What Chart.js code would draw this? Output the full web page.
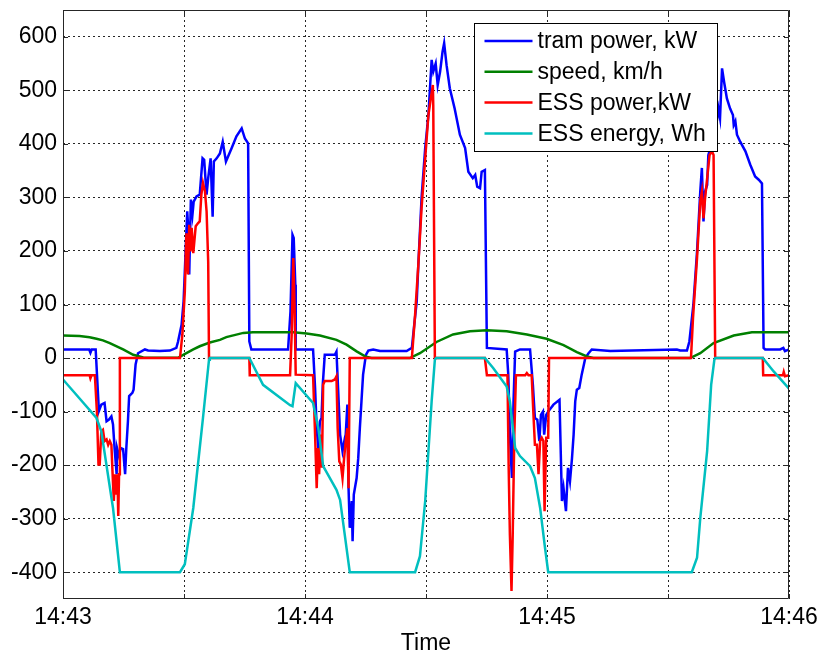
<!DOCTYPE html>
<html>
<head>
<meta charset="utf-8">
<title>Tram power and ESS</title>
<script src="https://cdn.jsdelivr.net/npm/chart.js@4.4.1/dist/chart.umd.min.js"></script>
<style>
    html, body { margin: 0; padding: 0; background: #fff; }
</style>
</head>
<body>
<canvas id="LineChart" width="820" height="657"></canvas>
<script>

// time axis in seconds after 14:43:00
var timeTicks = [0, 30, 60, 90, 120, 150, 180];
var timeLabels = { 0: '14:43', 60: '14:44', 120: '14:45', 180: '14:46' };
var valueTicks = [-400, -300, -200, -100, 0, 100, 200, 300, 400, 500, 600];

var seriesNames = ['tram power, kW', 'speed, km/h', 'ESS power,kW', 'ESS energy, Wh'];

// [seconds, value]
var tramPower = [
    [0, 16], [6.5, 16], [6.8, 10], [7.1, 16], [8.1, 16], [8.9, -99], [9.5, -87], [10.3, -84], [10.8, -118],
    [11.4, -115], [12.0, -109], [12.4, -124], [12.8, -170], [13.3, -217], [13.4, -168], [13.9, -183],
    [14.3, -168], [14.9, -170], [15.4, -217], [15.7, -168], [16.1, -118], [16.4, -71], [17.2, -65],
    [17.5, -59], [18.0, -12], [18.6, 9], [20.3, 16], [21.1, 14], [24.0, 13], [26.5, 14], [28.1, 19],
    [28.5, 30], [29.4, 62], [29.9, 106], [30.4, 199], [30.8, 274], [31.1, 236], [31.3, 156], [31.7, 296],
    [32.1, 268], [32.4, 292], [33.1, 302], [33.9, 305], [34.6, 373], [35.0, 370], [35.6, 305], [36.0, 336],
    [36.2, 348], [36.6, 373], [37.1, 264], [37.4, 367], [38.1, 373], [38.9, 382], [39.6, 404], [40.4, 367],
    [41.8, 392], [43.0, 414], [44.3, 429], [45.1, 410], [45.9, 401], [46.2, 31], [46.7, 16], [55.8, 16],
    [56.4, 87], [56.9, 230], [57.2, 224], [57.6, 137], [57.7, 16], [62.0, 16], [62.5, -56], [62.9, -131],
    [63.3, -168], [63.7, -118], [64.1, -112], [64.4, -50], [64.9, 6], [67.4, 6], [67.8, 12], [68.2, -56],
    [68.7, -143], [69.3, -174], [69.9, -149], [70.1, -143], [70.5, -87], [70.8, -243], [71.1, -317],
    [71.6, -267], [71.8, -342], [72.1, -255], [72.8, -224], [73.2, -187], [73.6, -131], [74.0, -81],
    [74.4, -31], [75.1, 6], [75.7, 14], [76.9, 16], [78.6, 13], [85.2, 13], [86.5, 19], [87.0, 56],
    [87.7, 106], [88.1, 174], [88.9, 299], [89.8, 392], [90.6, 454], [91.4, 557], [91.8, 535], [92.4, 550],
    [92.9, 510], [93.5, 535], [94.1, 572], [94.5, 588], [95.1, 547], [95.9, 504], [97.1, 466], [98.4, 417],
    [99.7, 392], [100.5, 348], [101.6, 336], [102.2, 342], [102.7, 320], [103.4, 317], [103.8, 348],
    [104.6, 351], [105.1, 19], [110.0, 16], [110.4, -31], [110.8, -143], [111.3, -224], [111.7, -81],
    [112.1, 12], [113.3, 16], [115.8, 16], [116.5, -50], [117.0, -112], [117.6, -115], [118.1, -155],
    [118.5, -106], [119.0, -100], [119.3, -143], [119.8, -106], [120.3, -100], [121.6, -87], [123.1, -78],
    [123.7, -267], [124.1, -243], [124.7, -286], [125.2, -205], [125.7, -230], [126.2, -187], [126.6, -143],
    [127.0, -81], [127.4, -59], [128.0, -56], [128.6, -31], [129.5, 0], [130.3, 9], [131.1, 16], [135.7, 13],
    [152.2, 16], [153.0, 14], [154.7, 14], [155.3, 31], [156.3, 100], [157.2, 199], [158.0, 311],
    [158.4, 355], [158.8, 255], [159.2, 311], [159.7, 323], [160.0, 379], [160.5, 392], [161.1, 410],
    [162.1, 442], [162.5, 466], [162.9, 448], [163.4, 541], [163.9, 516], [164.6, 485], [165.4, 466],
    [166.1, 454], [166.3, 435], [166.7, 442], [167.1, 417], [167.9, 404], [169.2, 386], [170.4, 361],
    [171.6, 339], [172.5, 333], [173.3, 326], [173.7, 19], [174.1, 16], [177.8, 16], [178.6, 19],
    [179.0, 13], [180, 16]
];

var speed = [
    [0, 42], [4.1, 41], [6.6, 39], [8.3, 36], [9.9, 33], [11.6, 28], [14.1, 19], [14.9, 16], [17.4, 6],
    [19.9, 1], [20.7, 0.5], [28.5, 0.5], [29.8, 6], [32.3, 16], [33.9, 22], [36.4, 29], [38.9, 34],
    [40.5, 39], [44.7, 47], [47.1, 48], [57.1, 48], [60.4, 46], [63.7, 42], [67.8, 34], [70.3, 25],
    [72.8, 12.5], [74.9, 3], [76.5, 0], [86.0, 0], [88.5, 9], [92.6, 30], [96.7, 44], [100.9, 50],
    [105.1, 52], [110.0, 50], [115.0, 44], [119.9, 36], [124.1, 24], [127.4, 11], [129.9, 3], [131.5, 0],
    [155.5, 0], [158.0, 9], [161.3, 28], [166.3, 42], [170.8, 48], [180, 48]
];

var essPower = [
    [0, -32], [6.6, -32], [6.8, -38], [7.1, -32], [7.9, -32], [8.4, -99], [8.8, -199], [9.1, -199],
    [9.5, -137], [9.9, -134], [10.3, -155], [10.8, -152], [11.2, -162], [11.6, -155], [12.0, -162],
    [12.3, -217], [12.6, -267], [12.9, -217], [13.3, -255], [13.5, -217], [13.7, -295], [13.9, -217],
    [14.1, 0], [29.0, 0], [29.6, 44], [30.2, 124], [30.6, 233], [31.0, 156], [31.3, 249], [31.6, 199],
    [31.9, 243], [32.3, 196], [32.9, 246], [33.5, 252], [33.9, 255], [34.3, 305], [34.7, 327], [35.2, 311],
    [35.6, 274], [36.0, 180], [36.2, 0], [46.2, 0], [46.3, -32], [56.3, -32], [56.7, 44], [57.1, 187],
    [57.4, 100], [57.7, -31], [62.0, -32], [62.5, -143], [62.9, -243], [63.2, -168], [63.5, -217],
    [63.9, -143], [64.2, -205], [64.5, -50], [64.9, -43], [66.6, -43], [67.4, -40], [67.8, -34],
    [68.1, -131], [68.5, -193], [68.9, -199], [69.3, -224], [69.7, -187], [70.1, -155], [70.5, -131],
    [70.8, -243], [71.1, 0], [86.5, 0], [86.8, 31], [87.3, 81], [88.1, 174], [88.9, 280], [89.8, 373],
    [90.6, 454], [91.2, 485], [91.7, 510], [91.8, 473], [92.2, 0], [104.6, 0], [105.1, -32], [110.2, -32],
    [110.5, -205], [110.8, -330], [111.2, -435], [111.5, -330], [111.9, -143], [112.3, -32], [114.6, -32],
    [115.0, -28], [115.4, -32], [116.2, -32], [116.6, -99], [117.0, -162], [117.5, -162], [117.9, -217],
    [118.3, -155], [118.7, -149], [119.1, -155], [119.4, -286], [119.8, -149], [120.3, -149], [120.5, 0],
    [155.7, 0], [156.2, 75], [157.2, 187], [158.0, 292], [158.4, 311], [158.8, 261], [159.2, 299],
    [159.8, 342], [160.3, 379], [160.9, 386], [161.3, 379], [161.7, 0], [173.5, 0], [173.6, -32],
    [178.5, -32], [178.7, -26], [179.0, -34], [180, -32]
];

var essEnergy = [
    [0, -40], [8.3, -112], [9.5, -137], [12.4, -280], [14.1, -400], [29.0, -400], [30.2, -385],
    [32.3, -280], [34.7, -112], [36.2, -3], [36.4, 0], [46.2, 0], [49.6, -50], [56.3, -88], [56.9, -90],
    [57.7, -47], [62.0, -84], [63.3, -131], [64.5, -202], [67.8, -246], [68.7, -265], [71.1, -400],
    [87.3, -400], [88.5, -370], [89.8, -267], [91.4, -81], [92.2, -3], [92.5, 0], [104.6, 0], [106.7, -19],
    [110.0, -53], [110.8, -81], [112.1, -168], [113.3, -183], [115.8, -202], [117.0, -224], [118.3, -280],
    [119.5, -354], [120.3, -400], [155.9, -400], [157.2, -373], [158.0, -299], [159.7, -174], [160.7, -50],
    [161.5, -3], [161.7, 0], [173.5, 0], [176.2, -25], [180, -57]
];

function toPoints(list) {
    return list.map(function (p) { return { x: p[0], y: p[1] }; });
}

var labelFont = { family: "'Liberation Sans', Arial, sans-serif", size: 23 };
var axisColor = '#262626';

// box, inward tick marks and legend drawn on top of the plot area
var frameAndLegend = {
    id: 'frameAndLegend',
    afterDatasetsDraw: function (chart) {
        var ctx = chart.ctx;
        var a = chart.chartArea;
        var xs = chart.scales.x, ys = chart.scales.y;
        ctx.save();
        ctx.strokeStyle = axisColor;
        ctx.lineWidth = 1;
        ctx.setLineDash([]);
        ctx.beginPath();
        ctx.rect(Math.round(a.left) + 0.5, Math.round(a.top) + 0.5,
            Math.round(a.right - a.left) - 1, Math.round(a.bottom - a.top) - 1);
        ctx.stroke();

        var tl = 5;
        ctx.beginPath();
        valueTicks.forEach(function (v) {
            var py = Math.round(ys.getPixelForValue(v)) + 0.5;
            ctx.moveTo(a.left, py); ctx.lineTo(a.left + tl, py);
            ctx.moveTo(a.right, py); ctx.lineTo(a.right - tl, py);
        });
        timeTicks.forEach(function (v) {
            var px = Math.round(xs.getPixelForValue(v)) + 0.5;
            ctx.moveTo(px, a.bottom); ctx.lineTo(px, a.bottom - tl);
            ctx.moveTo(px, a.top); ctx.lineTo(px, a.top + tl);
        });
        ctx.stroke();

        // legend
        var bx = Math.round(a.left + 411) + 0.5, by = Math.round(a.top + 13) + 0.5;
        var bw = 243, bh = 128;
        ctx.fillStyle = '#fff';
        ctx.fillRect(bx, by, bw, bh);
        ctx.strokeStyle = '#000';
        ctx.strokeRect(bx, by, bw, bh);
        ctx.font = labelFont.size + 'px ' + labelFont.family;
        ctx.textBaseline = 'middle';
        ctx.textAlign = 'left';
        chart.data.datasets.slice().sort(function (p, q) { return q.order - p.order; }).forEach(function (ds, i) {
            var ry = by + 17.5 + i * 30.8;
            ctx.strokeStyle = ds.borderColor;
            ctx.lineWidth = 2.5;
            ctx.beginPath();
            ctx.moveTo(bx + 10, ry); ctx.lineTo(bx + 58, ry);
            ctx.stroke();
            ctx.fillStyle = '#000';
            ctx.fillText(ds.label, bx + 63, ry + 1);
        });
        ctx.restore();
    }
};

var ctx = document.getElementById('LineChart');
new Chart(ctx, {
    type: 'line',
    data: {
        datasets: [{
            label: seriesNames[0],
            data: toPoints(tramPower),
            borderColor: '#0000ff',
            order: 4
        }, {
            label: seriesNames[1],
            data: toPoints(speed),
            borderColor: '#008000',
            order: 3
        }, {
            label: seriesNames[2],
            data: toPoints(essPower),
            borderColor: '#ff0000',
            order: 2
        }, {
            label: seriesNames[3],
            data: toPoints(essEnergy),
            borderColor: '#00bfbf',
            order: 1
        }]
    },
    options: {
        responsive: false,
        animation: false,
        devicePixelRatio: 1,
        parsing: false,
        elements: {
            line: { borderWidth: 2.5, tension: 0, fill: false },
            point: { radius: 0 }
        },
        layout: { padding: { top: 10, right: 31, left: 0, bottom: 0 } },
        plugins: {
            legend: { display: false },
            tooltip: { enabled: false }
        },
        scales: {
            x: {
                type: 'linear',
                min: 0,
                max: 180,
                afterBuildTicks: function (scale) {
                    scale.ticks = timeTicks.map(function (v) { return { value: v }; });
                },
                afterFit: function (scale) {
                    scale.height = 58;
                    scale.paddingLeft = 0;
                    scale.paddingRight = 0;
                },
                ticks: {
                    autoSkip: false,
                    maxRotation: 0,
                    padding: 5,
                    color: '#000',
                    font: labelFont,
                    callback: function (v) { return timeLabels[v] || ''; }
                },
                grid: { color: axisColor, lineWidth: 1, drawTicks: false },
                border: { display: false, dash: [2, 3] },
                title: {
                    display: true,
                    text: 'Time',
                    color: '#000',
                    font: labelFont,
                    padding: { top: 0, bottom: 0 }
                }
            },
            y: {
                min: -450,
                max: 650,
                afterBuildTicks: function (scale) {
                    scale.ticks = valueTicks.map(function (v) { return { value: v }; });
                },
                afterFit: function (scale) {
                    scale.width = 63;
                    scale.paddingTop = 0;
                    scale.paddingBottom = 0;
                },
                ticks: {
                    padding: 6,
                    color: '#000',
                    font: labelFont
                },
                grid: { color: axisColor, lineWidth: 1, drawTicks: false },
                border: { display: false, dash: [2, 3] }
            }
        }
    },
    plugins: [frameAndLegend]
});
</script>
</body>
</html>
